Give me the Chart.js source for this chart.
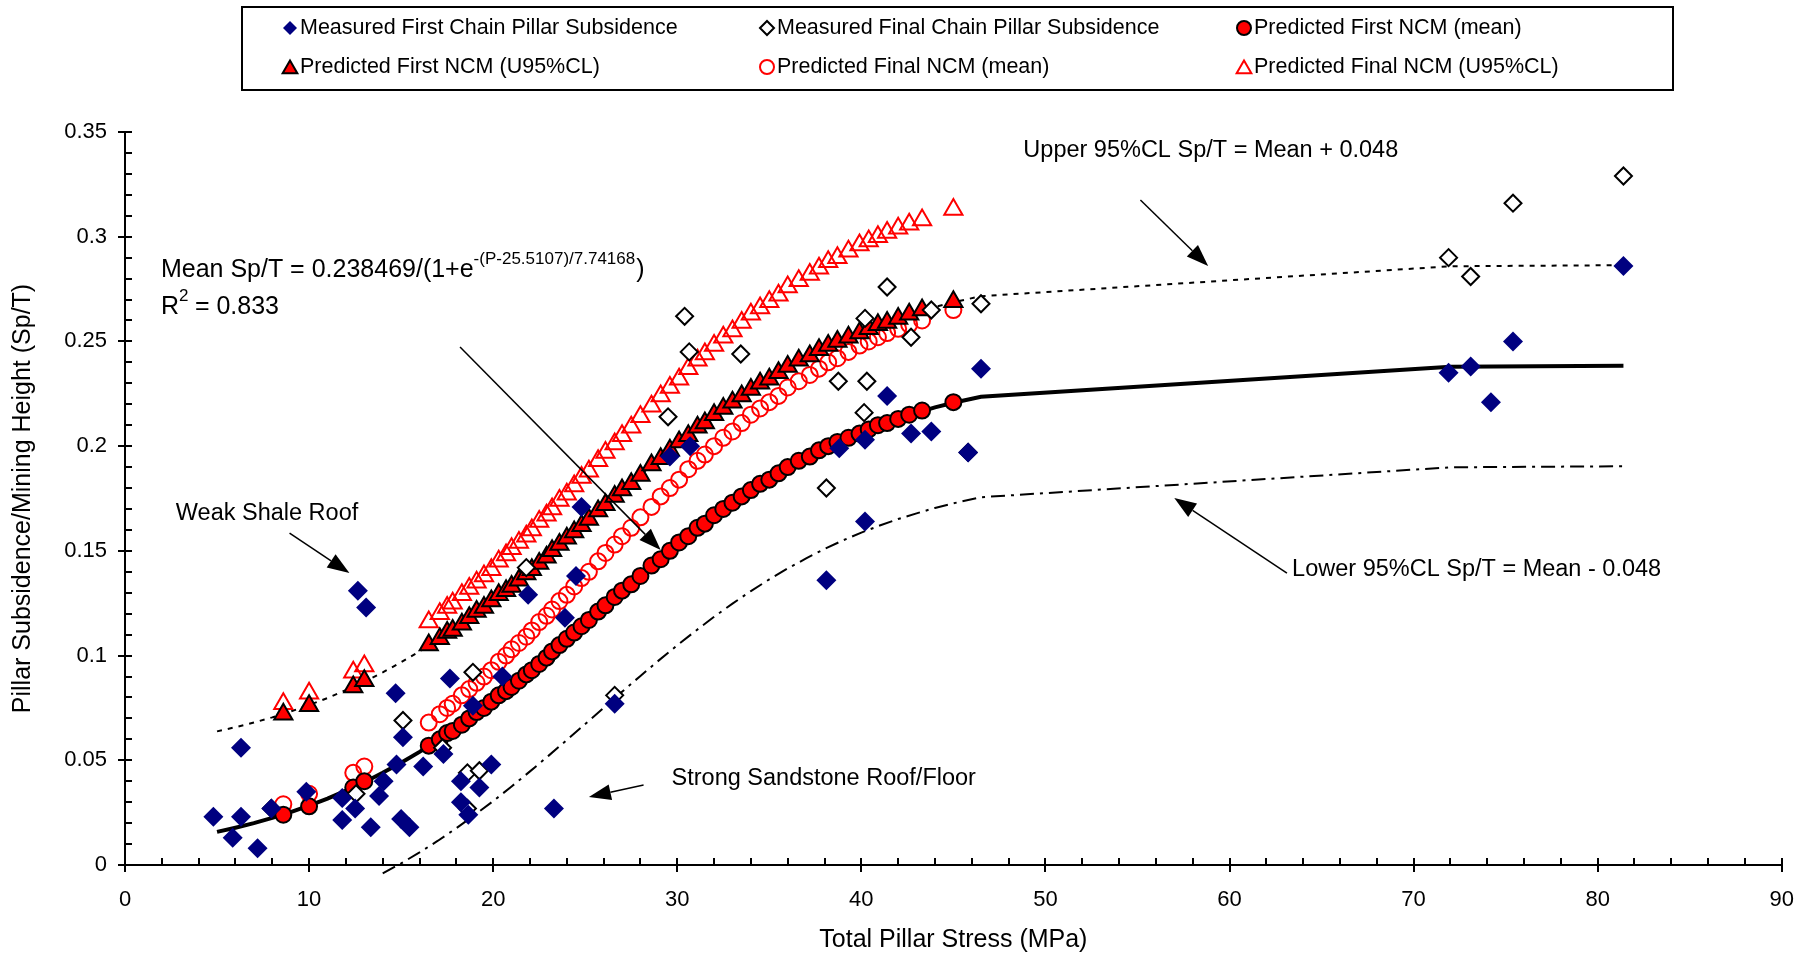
<!DOCTYPE html>
<html>
<head>
<meta charset="utf-8">
<title>Pillar subsidence vs total pillar stress</title>
<script src="https://cdn.jsdelivr.net/npm/chart.js"></script>
<style>
  body { margin: 0; background: #fff; }
  #wrap { width: 1816px; height: 958px; position: relative; }
</style>
</head>
<body>
<div id="wrap"><canvas id="canvas"></canvas></div>
<script>
// measured first chain pillar subsidence (stress MPa, Sp/T)
var measFirstX = [4.8, 5.85, 6.3, 6.3, 7.2, 7.95, 9.85, 11.8, 11.8, 12.5, 12.65, 13.1, 13.35, 13.8, 14.05,
  14.7, 14.75, 15.1, 15.0, 15.45, 16.2, 17.3, 17.65, 18.25, 18.25, 18.65, 19.25, 19.9, 18.9, 20.5,
  21.9, 23.9, 24.5, 24.8, 23.3, 26.6, 29.6, 30.7, 38.1, 38.8, 40.2, 40.2, 41.4, 42.7, 43.8, 45.8, 46.5,
  71.9, 73.1, 74.2, 75.4, 81.4];
var measFirstY = [0.023, 0.013, 0.023, 0.056, 0.008, 0.027, 0.035, 0.032, 0.0215, 0.027, 0.131, 0.123, 0.018, 0.033, 0.040,
  0.082, 0.048, 0.061, 0.022, 0.018, 0.047, 0.053, 0.089, 0.040, 0.030, 0.024, 0.037, 0.048, 0.076, 0.090,
  0.129, 0.118, 0.138, 0.171, 0.027, 0.077, 0.195, 0.200, 0.136, 0.199, 0.164, 0.203, 0.224, 0.206, 0.207, 0.197, 0.237,
  0.235, 0.238, 0.221, 0.250, 0.286];

// measured final chain pillar subsidence
var measFinalX = [7.95, 12.55, 15.1, 17.25, 18.9, 18.6, 19.25, 18.6, 21.8, 26.6, 29.5, 30.65, 30.4, 33.45,
  38.1, 38.75, 40.2, 40.3, 40.15, 41.4, 42.7, 43.8, 45.8, 46.5, 71.9, 73.1, 75.4, 81.4];
var measFinalY = [0.027, 0.034, 0.069, 0.056, 0.092, 0.044, 0.045, 0.027, 0.142, 0.081, 0.214, 0.245, 0.262, 0.244,
  0.180, 0.231, 0.261, 0.231, 0.216, 0.276, 0.252, 0.265, 0.197, 0.268, 0.290, 0.281, 0.316, 0.329];

// predicted NCM points, all four series share these stresses
var ncmStress = [8.6, 10.0, 12.4, 13.0, 16.5, 17.1, 17.5, 17.8, 18.3, 18.7,
  19.1, 19.5, 19.9, 20.3, 20.7, 21.0, 21.4, 21.8, 22.1, 22.5,
  22.9, 23.2, 23.6, 24.0, 24.4, 24.8, 25.2, 25.7, 26.1, 26.6,
  27.0, 27.5, 28.0, 28.6, 29.1, 29.6, 30.1, 30.6, 31.1, 31.5,
  32.0, 32.5, 33.0, 33.5, 34.0, 34.5, 35.0, 35.5, 36.0, 36.6,
  37.2, 37.7, 38.2, 38.7, 39.3, 39.9, 40.4, 40.9, 41.4, 42.0,
  42.6, 43.3, 45.0];
var ncmFirstMean = [0.024, 0.028, 0.037, 0.040, 0.057, 0.060, 0.063, 0.064, 0.067, 0.070,
  0.073, 0.075, 0.078, 0.081, 0.083, 0.085, 0.088, 0.091, 0.093, 0.096,
  0.099, 0.102, 0.105, 0.108, 0.111, 0.114, 0.117, 0.121, 0.124, 0.128,
  0.131, 0.134, 0.138, 0.143, 0.146, 0.150, 0.154, 0.157, 0.161, 0.163,
  0.167, 0.170, 0.173, 0.176, 0.179, 0.182, 0.184, 0.187, 0.190, 0.193,
  0.195, 0.198, 0.200, 0.202, 0.204, 0.206, 0.208, 0.210, 0.211, 0.213,
  0.215, 0.217, 0.221];
var ncmFirstU95 = [0.072, 0.076, 0.085, 0.088, 0.105, 0.108, 0.111, 0.112, 0.115, 0.118,
  0.121, 0.123, 0.126, 0.129, 0.131, 0.133, 0.136, 0.139, 0.141, 0.144,
  0.147, 0.150, 0.153, 0.156, 0.159, 0.162, 0.165, 0.169, 0.172, 0.176,
  0.179, 0.182, 0.186, 0.191, 0.194, 0.198, 0.202, 0.205, 0.209, 0.211,
  0.215, 0.218, 0.221, 0.224, 0.227, 0.230, 0.232, 0.235, 0.238, 0.241,
  0.243, 0.246, 0.248, 0.250, 0.252, 0.254, 0.256, 0.258, 0.259, 0.261,
  0.263, 0.265, 0.269];
var ncmFinalMean = [0.029, 0.034, 0.044, 0.047, 0.068, 0.072, 0.075, 0.077, 0.081, 0.084,
  0.087, 0.090, 0.093, 0.097, 0.100, 0.103, 0.106, 0.109, 0.112, 0.116,
  0.119, 0.122, 0.126, 0.129, 0.133, 0.137, 0.140, 0.145, 0.149, 0.153,
  0.157, 0.161, 0.166, 0.171, 0.176, 0.180, 0.184, 0.189, 0.193, 0.196,
  0.200, 0.204, 0.207, 0.211, 0.215, 0.218, 0.221, 0.224, 0.228, 0.231,
  0.234, 0.237, 0.240, 0.242, 0.245, 0.248, 0.250, 0.252, 0.254, 0.256,
  0.258, 0.260, 0.265];
var ncmFinalU95 = [0.077, 0.082, 0.092, 0.095, 0.116, 0.120, 0.123, 0.125, 0.129, 0.132,
  0.135, 0.138, 0.141, 0.145, 0.148, 0.151, 0.154, 0.157, 0.160, 0.164,
  0.167, 0.170, 0.174, 0.177, 0.181, 0.185, 0.188, 0.193, 0.197, 0.201,
  0.205, 0.209, 0.214, 0.219, 0.224, 0.228, 0.232, 0.237, 0.241, 0.244,
  0.248, 0.252, 0.255, 0.259, 0.263, 0.266, 0.269, 0.272, 0.276, 0.279,
  0.282, 0.285, 0.288, 0.290, 0.293, 0.296, 0.298, 0.300, 0.302, 0.304,
  0.306, 0.308, 0.313];

// fitted curve and confidence limits
var curveX = [5, 6, 7, 8, 9, 10, 11, 12, 13, 14, 15, 16, 17, 18, 19, 20, 21, 22, 23, 24, 25,
  26, 27, 28, 29, 30, 31, 32, 33, 34, 35, 36, 37, 38, 39, 40, 41, 42, 43, 44, 45, 46.5, 72, 81.4];
var curveMean = [0.0158, 0.0178, 0.0200, 0.0225, 0.0253, 0.0284, 0.0317, 0.0355, 0.0395, 0.0440, 0.0488,
  0.0540, 0.0596, 0.0656, 0.0719, 0.0785, 0.0855, 0.0927, 0.1001, 0.1077, 0.1153,
  0.1230, 0.1307, 0.1383, 0.1457, 0.1529, 0.1598, 0.1665, 0.1728, 0.1788, 0.1844,
  0.1896, 0.1944, 0.1989, 0.2030, 0.2067, 0.2101, 0.2132, 0.2159, 0.2185, 0.2207, 0.2236, 0.2379, 0.2384];
var curveUpper = [0.0638, 0.0658, 0.0680, 0.0705, 0.0733, 0.0764, 0.0797, 0.0835, 0.0875, 0.0920, 0.0968,
  0.1020, 0.1076, 0.1136, 0.1199, 0.1265, 0.1335, 0.1407, 0.1481, 0.1557, 0.1633,
  0.1710, 0.1787, 0.1863, 0.1937, 0.2009, 0.2078, 0.2145, 0.2208, 0.2268, 0.2324,
  0.2376, 0.2424, 0.2469, 0.2510, 0.2547, 0.2581, 0.2612, 0.2639, 0.2665, 0.2687, 0.2716, 0.2859, 0.2864];
var lowerX = [14, 15, 16, 17, 18, 19, 20, 21, 22, 23, 24, 25,
  26, 27, 28, 29, 30, 31, 32, 33, 34, 35, 36, 37, 38, 39, 40, 41, 42, 43, 44, 45, 46.5, 72, 81.4];
var curveLower = [-0.0040, 0.0008, 0.0060, 0.0116, 0.0176, 0.0239, 0.0305, 0.0375, 0.0447, 0.0521, 0.0597, 0.0673,
  0.0750, 0.0827, 0.0903, 0.0977, 0.1049, 0.1118, 0.1185, 0.1248, 0.1308, 0.1364,
  0.1416, 0.1464, 0.1509, 0.1550, 0.1587, 0.1621, 0.1652, 0.1679, 0.1705, 0.1727, 0.1756, 0.1899, 0.1904];

var xTickLabels = ['0', '10', '20', '30', '40', '50', '60', '70', '80', '90'];
var yTickLabels = ['0', '0.05', '0.1', '0.15', '0.2', '0.25', '0.3', '0.35'];

var FONT = '"Liberation Sans", Arial, Helvetica, sans-serif';
var RED = '#ff0000';
var NAVY = '#000080';

function pts(xs, ys) {
  var out = [];
  for (var i = 0; i < xs.length; i++) out.push({x: xs[i], y: ys[i]});
  return out;
}

// minor/major tick marks like the original axes
var axisTicks = {
  id: 'axisTicks',
  afterDraw: function(chart) {
    var ctx = chart.ctx, xs = chart.scales.x, ys = chart.scales.y, a = chart.chartArea;
    ctx.save();
    ctx.strokeStyle = '#000';
    ctx.lineWidth = 2;
    ctx.beginPath();
    for (var k = 0; k <= 45; k++) {
      var px = Math.round(xs.getPixelForValue(k * 2));
      ctx.moveTo(px, a.bottom + (k % 5 === 0 ? 7 : 0));
      ctx.lineTo(px, a.bottom - 7);
    }
    for (var j = 0; j <= 35; j++) {
      var py = Math.round(ys.getPixelForValue(j / 100));
      ctx.moveTo(a.left - (j % 5 === 0 ? 7 : 0), py);
      ctx.lineTo(a.left + 7, py);
    }
    ctx.stroke();
    ctx.restore();
  }
};

function arrow(ctx, x1, y1, x2, y2) {
  var ang = Math.atan2(y2 - y1, x2 - x1), L = 22, W = 8;
  var bx = x2 - L * Math.cos(ang), by = y2 - L * Math.sin(ang);
  ctx.beginPath();
  ctx.moveTo(x1, y1);
  ctx.lineTo(bx, by);
  ctx.stroke();
  ctx.beginPath();
  ctx.moveTo(x2, y2);
  ctx.lineTo(bx + W * Math.sin(ang), by - W * Math.cos(ang));
  ctx.lineTo(bx - W * Math.sin(ang), by + W * Math.cos(ang));
  ctx.closePath();
  ctx.fill();
}

// text notes and arrows, placed in data units
var notes = {
  id: 'notes',
  afterDraw: function(chart) {
    var ctx = chart.ctx, xs = chart.scales.x, ys = chart.scales.y;
    function X(v) { return xs.getPixelForValue(v); }
    function Y(v) { return ys.getPixelForValue(v); }
    ctx.save();
    ctx.fillStyle = '#000';
    ctx.strokeStyle = '#000';
    ctx.lineWidth = 1.5;
    ctx.textBaseline = 'middle';
    ctx.textAlign = 'left';
    ctx.font = '23.5px ' + FONT;

    ctx.fillText('Upper 95%CL Sp/T = Mean + 0.048', X(48.8), Y(0.341));
    arrow(ctx, X(55.16), Y(0.3175), X(58.84), Y(0.286));

    ctx.fillText('Lower 95%CL Sp/T = Mean - 0.048', X(63.4), Y(0.1413));
    arrow(ctx, X(63.12), Y(0.1394), X(57.0), Y(0.1752));

    ctx.fillText('Weak Shale Roof', X(2.76), Y(0.1676));
    arrow(ctx, X(8.94), Y(0.1585), X(12.19), Y(0.1394));

    ctx.fillText('Strong Sandstone Roof/Floor', X(29.69), Y(0.0415));
    arrow(ctx, X(28.17), Y(0.0382), X(25.2), Y(0.0325));

    // fitted equation
    ctx.font = '25px ' + FONT;
    var ex = X(1.95), ey = Y(0.2841);
    var t1 = 'Mean Sp/T = 0.238469/(1+e';
    ctx.fillText(t1, ex, ey);
    var w1 = ctx.measureText(t1).width;
    ctx.font = '17px ' + FONT;
    var sup = '-(P-25.5107)/7.74168';
    ctx.fillText(sup, ex + w1, ey - 11);
    var w2 = ctx.measureText(sup).width;
    ctx.font = '25px ' + FONT;
    ctx.fillText(')', ex + w1 + w2 + 1, ey);

    var ry = Y(0.2664);
    ctx.fillText('R', ex, ry);
    var wr = ctx.measureText('R').width;
    ctx.font = '17px ' + FONT;
    ctx.fillText('2', ex + wr, ry - 11);
    ctx.font = '25px ' + FONT;
    ctx.fillText(' = 0.833', ex + wr + 9, ry);
    arrow(ctx, X(18.2), Y(0.2473), X(29.1), Y(0.1504));
    ctx.restore();
  }
};

// boxed legend in three columns
var legendBox = {
  id: 'legendBox',
  afterDraw: function(chart) {
    var ctx = chart.ctx;
    var cols = [290, 767, 1244], rows = [28, 67];
    ctx.save();
    ctx.lineWidth = 2;
    ctx.strokeStyle = '#000';
    ctx.strokeRect(242, 7, 1431, 83);
    ctx.textBaseline = 'middle';
    ctx.textAlign = 'left';
    for (var i = 0; i < 6; i++) {
      var ds = chart.data.datasets[i];
      var x = cols[i % 3], y = rows[Math.floor(i / 3)];
      ctx.fillStyle = ds.pointBackgroundColor;
      ctx.strokeStyle = ds.pointBorderColor;
      ctx.lineWidth = ds.pointBorderWidth;
      Chart.helpers.drawPoint(ctx, {
        pointStyle: ds.pointStyle,
        radius: ds.pointStyle === 'triangle' ? 8.5 : 7,
        rotation: 0,
        borderWidth: ds.pointBorderWidth
      }, x, y + (ds.pointStyle === 'triangle' ? 2 : 0));
      ctx.fillStyle = '#000';
      ctx.font = '21.5px ' + FONT;
      ctx.fillText(ds.label, x + 10, y);
    }
    ctx.restore();
  }
};

var ctx = document.getElementById('canvas');

new Chart(ctx, {
  type: 'scatter',
  data: {
    datasets: [
      {
        label: 'Measured First Chain Pillar Subsidence',
        data: pts(measFirstX, measFirstY),
        pointStyle: 'rectRot', pointRadius: 10,
        pointBackgroundColor: NAVY, pointBorderColor: NAVY, pointBorderWidth: 0
      },
      {
        label: 'Measured Final Chain Pillar Subsidence',
        data: pts(measFinalX, measFinalY),
        pointStyle: 'rectRot', pointRadius: 8.5,
        pointBackgroundColor: '#ffffff', pointBorderColor: '#000', pointBorderWidth: 2
      },
      {
        label: 'Predicted First NCM (mean)',
        data: pts(ncmStress, ncmFirstMean),
        pointStyle: 'circle', pointRadius: 8,
        pointBackgroundColor: RED, pointBorderColor: '#000', pointBorderWidth: 2
      },
      {
        label: 'Predicted First NCM (U95%CL)',
        data: pts(ncmStress, ncmFirstU95),
        pointStyle: 'triangle', pointRadius: 10.5,
        pointBackgroundColor: RED, pointBorderColor: '#000', pointBorderWidth: 2
      },
      {
        label: 'Predicted Final NCM (mean)',
        data: pts(ncmStress, ncmFinalMean),
        pointStyle: 'circle', pointRadius: 8,
        pointBackgroundColor: 'rgba(0,0,0,0)', pointBorderColor: RED, pointBorderWidth: 2
      },
      {
        label: 'Predicted Final NCM (U95%CL)',
        data: pts(ncmStress, ncmFinalU95),
        pointStyle: 'triangle', pointRadius: 10.5,
        pointBackgroundColor: 'rgba(0,0,0,0)', pointBorderColor: RED, pointBorderWidth: 2
      },
      {
        label: 'Mean',
        data: pts(curveX, curveMean),
        showLine: true, pointRadius: 0, borderColor: '#000', borderWidth: 4,
        order: 5
      },
      {
        label: 'Upper 95%CL',
        data: pts(curveX, curveUpper),
        showLine: true, pointRadius: 0, borderColor: '#000', borderWidth: 2,
        borderDash: [5, 6], order: 5
      },
      {
        label: 'Lower 95%CL',
        data: pts(lowerX, curveLower),
        showLine: true, pointRadius: 0, borderColor: '#000', borderWidth: 2,
        borderDash: [14, 6, 3, 6], order: 5, clip: 12
      }
    ]
  },
  options: {
    responsive: true,
    maintainAspectRatio: false,
    animation: false,
    events: [],
    layout: { padding: { left: 0, right: 30, top: 132, bottom: 0 } },
    plugins: {
      legend: { display: false },
      tooltip: { enabled: false }
    },
    scales: {
      x: {
        type: 'linear', min: 0, max: 90,
        grid: { display: false, drawTicks: false },
        border: { display: true, color: '#000', width: 2 },
        ticks: {
          stepSize: 10, padding: 22, color: '#000',
          font: { family: FONT, size: 22 },
          callback: function(v) { return xTickLabels[Math.round(v / 10)]; }
        },
        title: {
          display: true, text: 'Total Pillar Stress (MPa)', color: '#000',
          font: { family: FONT, size: 25 }, padding: { top: 0, bottom: 3 }
        },
        afterFit: function(s) { s.height = 93; }
      },
      y: {
        type: 'linear', min: 0, max: 0.35,
        grid: { display: false, drawTicks: false },
        border: { display: true, color: '#000', width: 2 },
        ticks: {
          stepSize: 0.05, padding: 18, color: '#000',
          font: { family: FONT, size: 22 },
          callback: function(v) { return yTickLabels[Math.round(v / 0.05)]; }
        },
        title: {
          display: true, text: 'Pillar Subsidence/Mining Height (Sp/T)', color: '#000',
          font: { family: FONT, size: 25 }, padding: { top: 8, bottom: 0 }
        },
        afterFit: function(s) { s.width = 125; }
      }
    }
  },
  plugins: [axisTicks, notes, legendBox]
});
</script>
</body>
</html>
